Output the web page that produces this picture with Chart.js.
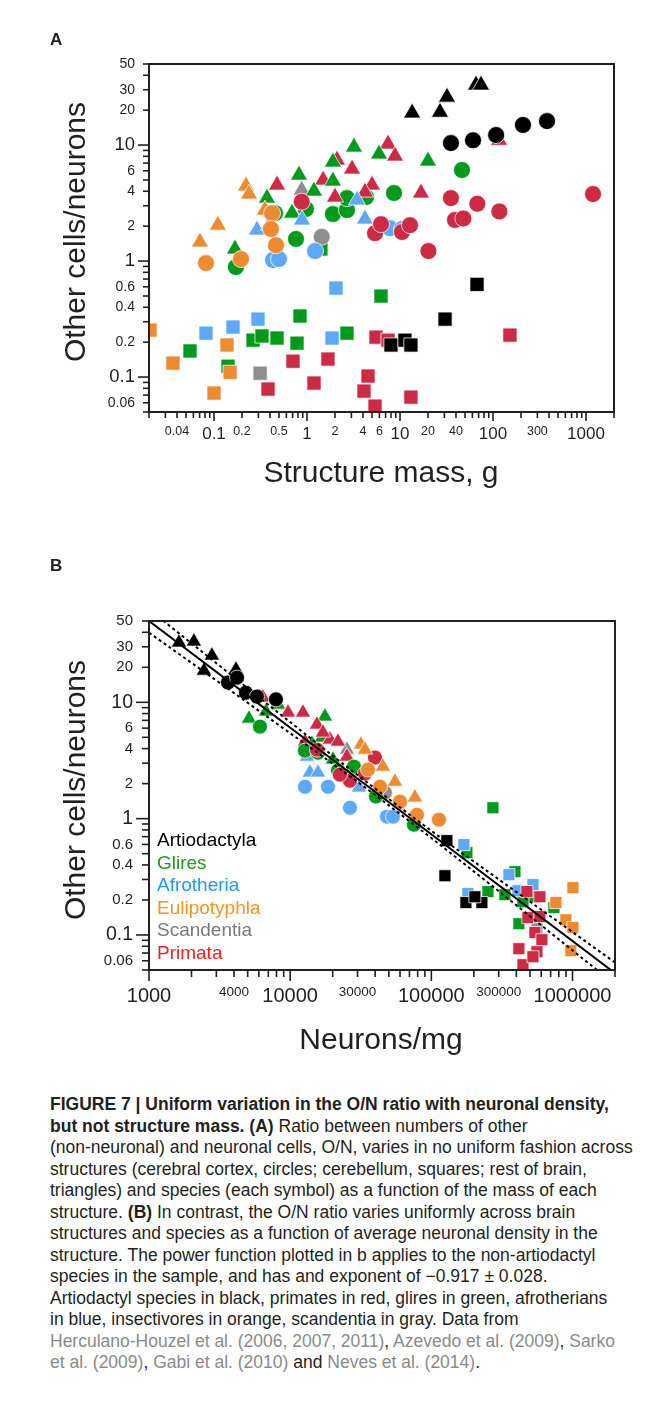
<!DOCTYPE html>
<html>
<head>
<meta charset="utf-8">
<script src="https://cdn.jsdelivr.net/npm/chart.js@4.4.1/dist/chart.umd.min.js"></script>
<style>
  html, body { margin: 0; padding: 0; background: #fff; }
  body { width: 651px; height: 1412px; position: relative; overflow: hidden;
         font-family: "Liberation Sans", Arial, Helvetica, sans-serif; color: #231f20; }
  canvas { position: absolute; left: 0; }
  .t { position: absolute; white-space: nowrap; z-index: 2; }
  .panel { font-weight: bold; font-size: 17px; line-height: 17px; }
  .axtitle { font-size: 30px; line-height: 30px; text-align: center; width: 400px; }
  .ytitle { transform: rotate(-90deg); }
  .legend { left: 157px; top: 829px; font-size: 19px; line-height: 22.5px; }
  .caption { left: 50px; top: 1094px; font-size: 17.5px; line-height: 21.5px; }
  .caption b { font-weight: bold; }
  .ref { color: #8a8a8a; }
</style>
</head>
<body>
<canvas id="chartA" width="651" height="500" style="top:0;width:651px;height:500px"></canvas>
<canvas id="chartB" width="651" height="560" style="top:520px;width:651px;height:560px"></canvas>

<div class="t panel" style="left:50px;top:31px">A</div>
<div class="t panel" style="left:50px;top:557px">B</div>

<div class="t axtitle ytitle" style="left:-125px;top:217px">Other cells/neurons</div>
<div class="t axtitle" style="left:181px;top:457px">Structure mass, g</div>
<div class="t axtitle ytitle" style="left:-125px;top:775px">Other cells/neurons</div>
<div class="t axtitle" style="left:181px;top:1024px">Neurons/mg</div>

<div class="t legend">
  <div style="color:#000">Artiodactyla</div>
  <div style="color:#1c9c1c">Glires</div>
  <div style="color:#1e9bf0">Afrotheria</div>
  <div style="color:#f7931e">Eulipotyphla</div>
  <div style="color:#7a7a7a">Scandentia</div>
  <div style="color:#f01e1e">Primata</div>
</div>

<div class="t caption">
  <div><b>FIGURE 7 | Uniform variation in the O/N ratio with neuronal density,</b></div>
  <div><b>but not structure mass. (A)</b> Ratio between numbers of other</div>
  <div>(non-neuronal) and neuronal cells, O/N, varies in no uniform fashion across</div>
  <div>structures (cerebral cortex, circles; cerebellum, squares; rest of brain,</div>
  <div>triangles) and species (each symbol) as a function of the mass of each</div>
  <div>structure. <b>(B)</b> In contrast, the O/N ratio varies uniformly across brain</div>
  <div>structures and species as a function of average neuronal density in the</div>
  <div>structure. The power function plotted in b applies to the non-artiodactyl</div>
  <div>species in the sample, and has and exponent of −0.917 ± 0.028.</div>
  <div>Artiodactyl species in black, primates in red, glires in green, afrotherians</div>
  <div>in blue, insectivores in orange, scandentia in gray. Data from</div>
  <div><span class="ref">Herculano-Houzel et al. (2006, 2007, 2011)</span>, <span class="ref">Azevedo et al. (2009)</span>, <span class="ref">Sarko</span></div>
  <div><span class="ref">et al. (2009)</span>, <span class="ref">Gabi et al. (2010)</span> and <span class="ref">Neves et al. (2014)</span>.</div>
</div>

<script>
// ---- A: structure mass (g) vs other cells/neurons ----
const massArtioTri  = [[13.5,18.9],[26.9,19.2],[32,25.9],[65.6,32.9],[74.3,32.9]]
const massArtioCirc = [[35.3,10.4],[61,11.0],[108,12.2],[210,14.9],[381,16.1]]
const massArtioSq   = [[67.3,0.63],[30.5,0.316],[8.0,0.189],[11.3,0.208],[13.1,0.189]]

const massPrimTri  = [[0.476,4.52],[1.49,4.99],[2.10,7.42],[3.05,6.21],[5.0,4.52],[4.2,3.93],[2.0,3.56],[7.43,10.2],[8.84,8.04],[16.8,3.86],[116,11.0]]
const massPrimCirc = [[1190,3.78],[35.3,3.49],[67.8,3.12],[117,2.68],[39,2.26],[48,2.33],[20.2,1.22],[0.877,3.25],[5.39,1.74],[6.25,2.08],[10.5,1.78],[12.8,2.04]]
const massPrimSq   = [[0.707,0.137],[0.381,0.0788],[1.68,0.143],[1.19,0.0888],[4.53,0.102],[4.10,0.0757],[5.39,0.0562],[13.1,0.0672],[5.52,0.221],[7.43,0.208],[152,0.230]]

const massGlirTri  = [[0.168,1.27],[0.371,3.49],[0.690,2.59],[0.820,5.51],[1.19,4.01],[1.90,7.14],[1.90,4.90],[3.20,9.61],[5.95,8.37],[20.0,7.28]]
const massGlirCirc = [[0.172,0.888],[0.762,1.55],[1.90,2.54],[2.69,2.75],[2.69,3.49],[4.31,3.56],[8.62,3.86],[0.975,2.81],[0.453,2.59],[46.4,6.09]]
const massGlirSq   = [[0.0552,0.168],[0.1415,0.124],[0.263,0.208],[0.328,0.226],[0.476,0.217],[0.841,0.336],[0.781,0.196],[2.69,0.239],[6.25,0.499],[1.41,1.27]]

const massAfroTri  = [[0.290,1.85],[0.390,2.04],[0.884,2.26],[3.45,3.36],[4.20,2.30]]
const massAfroCirc = [[0.431,1.02],[0.50,1.04],[1.22,1.22],[7.81,1.92],[10.5,1.89]]
const massAfroSq   = [[0.082,0.239],[0.160,0.270],[0.297,0.316],[1.86,0.217],[2.05,0.585]]

const massEuliTri  = [[0.0707,1.46],[0.110,2.04],[0.221,4.43],[0.238,3.78],[0.353,2.75]]
const massEuliCirc = [[0.082,0.961],[0.195,1.04],[0.421,2.59],[0.410,1.89],[0.464,1.37]]
const massEuliSq   = [[0.0205,0.254],[0.0362,0.132],[0.1,0.0728],[0.138,0.189],[0.149,0.110]]

const massScanTri  = [[0.877,4.09]]
const massScanCirc = [[1.44,1.62]]
const massScanSq   = [[0.313,0.108]]

// ---- B: neurons/mg vs other cells/neurons ----
const densArtioTri  = [[1630,32.6],[2080,33.3],[2790,25.2],[2450,18.7],[4130,19.1]]
const densArtioCirc = [[3625,14.8],[4200,16.3],[4860,12.1],[5820,11.2],[7930,10.6]]
const densArtioSq   = [[128900,0.647],[124800,0.323],[175800,0.190],[228100,0.190],[203500,0.213]]

const densPrimTri  = [[6420,11.0],[9650,8.16],[12320,8.16],[15480,6.43],[12730,4.59],[19140,4.78],[21800,4.59],[25240,3.41],[17070,5.49]]
const densPrimCirc = [[15480,3.92],[26500,2.12],[33870,2.44],[39880,3.35],[22500,2.39],[59900,1.37]]
const densPrimSq   = [[475400,0.236],[587500,0.213],[483000,0.141],[587500,0.144],[541500,0.105],[607000,0.0911],[559800,0.0718],[417000,0.0762],[445500,0.0555],[524600,0.065]]

const densGlirTri  = [[5110,7.24],[6740,8.32],[8200,9.55],[17630,7.54],[16800,4.97],[14260,4.41],[20100,3.22]]
const densGlirCirc = [[6110,6.18],[12730,3.84],[21800,2.59],[28300,2.80],[40500,1.55],[75300,0.888],[15740,3.69],[24400,2.34]]
const densGlirSq   = [[273000,1.24],[178600,0.510],[251700,0.236],[390900,0.350],[332000,0.222],[524600,0.214],[445500,0.193],[738600,0.172],[417000,0.125]]

const densAfroTri  = [[13150,3.41],[13800,2.49],[15740,2.49],[30700,1.85]]
const densAfroCirc = [[12730,1.88],[18530,1.88],[26530,1.24],[48500,1.04],[53460,1.04]]
const densAfroSq   = [[170200,0.598],[181600,0.227],[354600,0.330],[410500,0.240],[524600,0.271]]

const densEuliTri  = [[31720,4.33],[33870,3.92],[45400,2.80],[55230,2.08],[76500,1.52]]
const densEuliCirc = [[35560,2.64],[43250,1.88],[59930,1.40],[79070,1.08],[113200,0.98]]
const densEuliSq   = [[1007000,0.255],[762700,0.190],[897800,0.135],[1007000,0.116],[974000,0.0733]]

const densScanTri  = [[25240,3.92]]
const densScanCirc = [[46900,1.67]]
const densScanSq   = [[559800,0.113]]

// power fit (non-artiodactyl) and its dotted band
const fitExponent = -0.917
const fitCoef = 28200
const fitX = [1000, 2000000]
const bandX     = [1000, 3000, 10000, 30000, 100000, 300000, 1000000, 2000000]
const bandUpper = [62.9, 21.7, 6.76, 2.37, 0.786, 0.301, 0.106, 0.058]
const bandLower = [39.7, 15.4, 5.43, 2.07, 0.681, 0.238, 0.0737, 0.0376]

// tick labels
const massTickLabels  = [0.04, 0.1, 0.2, 0.5, 1, 2, 4, 6, 10, 20, 40, 100, 300, 1000]
const ratioTickLabels = [0.06, 0.1, 0.2, 0.4, 0.6, 1, 2, 4, 6, 10, 20, 30, 50]
const densTickLabels  = [1000, 4000, 10000, 30000, 100000, 300000, 1000000]

const COLORS = {
  artio: '#000000', prim: '#cc2a45', glir: '#009a1c',
  afro: '#5ea8f8', euli: '#ee8a2f', scan: '#8e8e8e'
}

Chart.defaults.font.family = '"Liberation Sans", Arial, Helvetica, sans-serif'
Chart.defaults.color = '#231f20'

function isDecade(v) {
  const l = Math.log10(v)
  return Math.abs(l - Math.round(l)) < 1e-6
}

function logTicks(min, max) {
  const out = []
  for (let e = Math.floor(Math.log10(min)); e <= Math.ceil(Math.log10(max)); e++) {
    for (let m = 1; m <= 9; m++) {
      const v = Number((m * Math.pow(10, e)).toPrecision(10))
      if (v >= min * 0.9999 && v <= max * 1.0001) out.push({ value: v })
    }
  }
  return out
}

function labelFrom(list) {
  return (v) => {
    const hit = list.find(l => Math.abs(l - v) / l < 1e-6)
    return hit === undefined ? '' : String(hit)
  }
}

function pts(arr) {
  return arr.map(([x, y]) => ({ x, y }))
}

function marks(arr, color, style, r) {
  return {
    data: pts(arr),
    pointStyle: style,
    pointRadius: r,
    backgroundColor: color,
    borderColor: 'rgba(255,255,255,0.75)',
    borderWidth: 1,
    clip: 0
  }
}

// draws the box and the outward tick marks
const axisBox = {
  id: 'axisBox',
  afterDatasetsDraw(chart, args, opts) {
    const { ctx, chartArea: a, scales } = chart
    ctx.save()
    ctx.strokeStyle = '#231f20'
    ctx.lineWidth = 1.6
    for (const t of scales.x.ticks) {
      const px = scales.x.getPixelForValue(t.value)
      const len = isDecade(t.value) ? opts.xMajor : opts.xMinor
      ctx.beginPath(); ctx.moveTo(px, a.bottom); ctx.lineTo(px, a.bottom + len); ctx.stroke()
    }
    for (const t of scales.y.ticks) {
      const py = scales.y.getPixelForValue(t.value)
      const len = isDecade(t.value) ? opts.yMajor : opts.yMinor
      ctx.beginPath(); ctx.moveTo(a.left, py); ctx.lineTo(a.left - len, py); ctx.stroke()
    }
    ctx.lineWidth = 2
    ctx.strokeRect(a.left, a.top, a.right - a.left, a.bottom - a.top)
    ctx.restore()
  }
}

function logAxis(min, max, labels, bigSize, smallSize, padding, fitSize, horizontal) {
  return {
    type: 'logarithmic',
    min, max,
    grid: { display: false, drawTicks: false },
    border: { display: false },
    afterBuildTicks: (s) => { s.ticks = logTicks(min, max) },
    afterFit: (s) => { if (horizontal) s.height = fitSize; else s.width = fitSize },
    ticks: {
      autoSkip: false,
      maxRotation: 0,
      padding,
      color: '#231f20',
      callback: labelFrom(labels),
      font: (ctx) => ({ size: ctx.tick && isDecade(ctx.tick.value) ? bigSize : smallSize })
    }
  }
}

// ---- chart A ----
new Chart(document.getElementById('chartA'), {
  type: 'scatter',
  data: {
    datasets: [
      marks(massArtioCirc, COLORS.artio, 'circle', 8.5),
      marks(massArtioTri, COLORS.artio, 'triangle', 10),
      marks(massArtioSq, COLORS.artio, 'rect', 10),
      marks(massPrimCirc, COLORS.prim, 'circle', 8.5),
      marks(massPrimSq, COLORS.prim, 'rect', 10),
      marks(massEuliCirc, COLORS.euli, 'circle', 8.5),
      marks(massEuliTri, COLORS.euli, 'triangle', 10),
      marks(massEuliSq, COLORS.euli, 'rect', 10),
      marks(massAfroCirc, COLORS.afro, 'circle', 8.5),
      marks(massAfroTri, COLORS.afro, 'triangle', 10),
      marks(massAfroSq, COLORS.afro, 'rect', 10),
      marks(massScanCirc, COLORS.scan, 'circle', 8.5),
      marks(massGlirTri, COLORS.glir, 'triangle', 10),
      marks(massPrimTri, COLORS.prim, 'triangle', 10),
      marks(massScanTri, COLORS.scan, 'triangle', 10),
      marks(massScanSq, COLORS.scan, 'rect', 10),
      marks(massGlirCirc, COLORS.glir, 'circle', 8.5),
      marks(massGlirSq, COLORS.glir, 'rect', 10)
    ]
  },
  options: {
    responsive: false,
    animation: false,
    events: [],
    layout: { padding: { top: 64, right: 37, left: 0, bottom: 0 } },
    plugins: {
      legend: { display: false },
      tooltip: { enabled: false },
      axisBox: { xMajor: 9, xMinor: 6, yMajor: 11, yMinor: 6 }
    },
    scales: {
      x: logAxis(0.02, 2000, massTickLabels, 17, 12.5, 12, 88, true),
      y: logAxis(0.05, 50, ratioTickLabels, 18.5, 14, 14, 149, false)
    }
  },
  plugins: [axisBox]
})

// ---- chart B ----
const fitLine = fitX.map(x => ({ x, y: fitCoef * Math.pow(x, fitExponent) }))

function band(values) {
  return bandX.map((x, i) => ({ x, y: values[i] }))
}

function lineSet(data, dash) {
  return {
    data,
    showLine: true,
    borderColor: '#000',
    borderWidth: 2,
    borderDash: dash,
    pointRadius: 0,
    cubicInterpolationMode: 'monotone',
    clip: 0
  }
}

new Chart(document.getElementById('chartB'), {
  type: 'scatter',
  data: {
    datasets: [
      lineSet(fitLine, []),
      lineSet(band(bandUpper), [3, 3]),
      lineSet(band(bandLower), [3, 3]),
      marks(densArtioCirc, COLORS.artio, 'circle', 7.5),
      marks(densArtioTri, COLORS.artio, 'triangle', 9),
      marks(densArtioSq, COLORS.artio, 'rect', 8.5),
      marks(densPrimSq, COLORS.prim, 'rect', 8.5),
      marks(densEuliCirc, COLORS.euli, 'circle', 7.5),
      marks(densEuliTri, COLORS.euli, 'triangle', 9),
      marks(densEuliSq, COLORS.euli, 'rect', 8.5),
      marks(densPrimCirc, COLORS.prim, 'circle', 7.5),
      marks(densGlirCirc, COLORS.glir, 'circle', 7.5),
      marks(densPrimTri, COLORS.prim, 'triangle', 9),
      marks(densScanTri, COLORS.scan, 'triangle', 9),
      marks(densGlirTri, COLORS.glir, 'triangle', 9),
      marks(densAfroCirc, COLORS.afro, 'circle', 7.5),
      marks(densAfroTri, COLORS.afro, 'triangle', 9),
      marks(densScanCirc, COLORS.scan, 'circle', 7.5),
      marks(densAfroSq, COLORS.afro, 'rect', 8.5),
      marks(densGlirSq, COLORS.glir, 'rect', 8.5),
      marks(densScanSq, COLORS.scan, 'rect', 8.5)
    ]
  },
  options: {
    responsive: false,
    animation: false,
    events: [],
    layout: { padding: { top: 101, right: 36, left: 0, bottom: 0 } },
    plugins: {
      legend: { display: false },
      tooltip: { enabled: false },
      axisBox: { xMajor: 11, xMinor: 7, yMajor: 13, yMinor: 7 }
    },
    scales: {
      x: logAxis(1000, 2000000, densTickLabels, 20, 13.5, 14, 110, true),
      y: logAxis(0.05, 50, ratioTickLabels, 19.5, 15, 16, 149, false)
    }
  },
  plugins: [axisBox]
})
</script>
</body>
</html>
